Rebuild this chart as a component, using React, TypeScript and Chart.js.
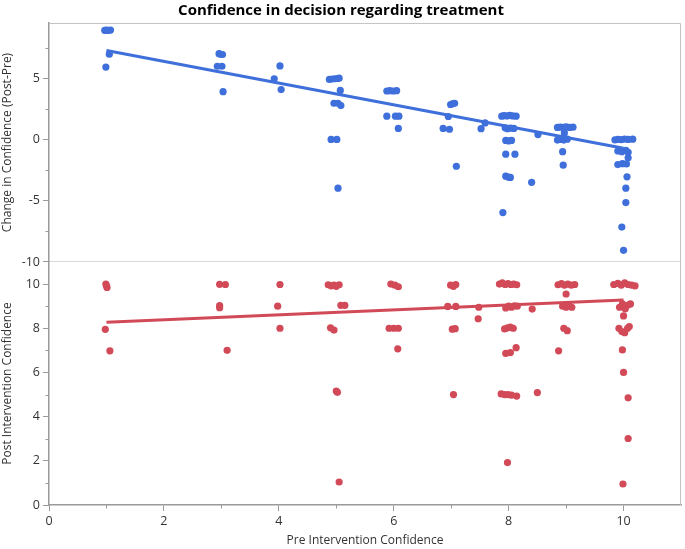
import React, { useEffect, useRef } from 'react';
import { Chart, registerables } from 'chart.js';

Chart.register(...registerables);

// ---- Top panel: Change in Confidence (Post-Pre) vs Pre Intervention Confidence (jittered x)
const changePreX = [
  0.97, 1.0, 1.03, 1.07, 1.05, 0.99,
  2.96, 2.99, 3.02, 2.93, 3.01, 3.03,
  3.92, 4.02, 4.04,
  4.88, 4.93, 4.98, 5.02, 5.05, 5.07, 4.96, 5.03, 5.08, 4.91, 5.01, 5.03,
  5.88, 5.93, 5.99, 6.05, 5.88, 6.03, 6.09, 6.08,
  6.99, 7.03, 7.06, 6.95, 6.86, 6.97, 7.09,
  7.52, 7.59,
  7.88, 7.92, 7.97, 8.02, 8.07, 8.13,
  7.94, 7.98, 8.03, 8.09,
  7.95, 8.0, 8.05,
  7.95, 8.11,
  7.95, 8.0, 8.03,
  8.4, 7.9, 8.51,
  8.85, 8.9, 8.95, 9.0, 9.06, 9.12,
  8.97,
  8.85, 8.9, 8.96, 9.02,
  8.94, 8.95,
  9.85, 9.9, 9.96, 10.02, 10.08, 10.16,
  9.9, 9.97, 10.04, 10.08,
  10.08,
  9.9, 9.98, 10.05,
  10.06, 10.04, 10.04, 9.97, 10.0,
];
const changeY = [
  8.9, 8.92, 8.9, 8.92, 6.96, 5.9,
  7.0, 6.95, 6.93, 5.97, 5.97, 3.9,
  4.95, 6.0, 4.07,
  4.9, 4.93, 4.95, 4.97, 5.0, 4.0, 2.95, 2.95, 2.76, 0, 0, -3.98,
  3.95, 3.98, 3.95, 3.98, 1.9, 1.9, 1.9, 0.9,
  2.85, 2.92, 2.95, 1.87, 0.9, 0.83, -2.19,
  0.88, 1.35,
  1.9, 1.95, 1.92, 1.97, 1.92, 1.9,
  0.95, 0.88, 0.92, 0.9,
  -0.08, -0.12, -0.08,
  -1.2, -1.2,
  -3.0, -3.08, -3.1,
  -3.5, -5.97, 0.4,
  0.98, 1.0, 0.98, 1.02, 0.98, 1.0,
  0.53,
  -0.05, 0, -0.05, 0.02,
  -1.0, -2.1,
  -0.03, 0.0, -0.02, 0.03, 0.0, 0.02,
  -0.95, -1.0, -0.9, -1.05,
  -1.5,
  -2.05, -1.98, -2.0,
  -3.05, -3.98, -5.15, -7.15, -9.05,
];

// ---- Bottom panel: Post Intervention Confidence vs Pre Intervention Confidence (jittered x)
const postPreX = [
  0.99, 1.0, 1.01, 0.98, 1.06,
  2.97, 3.07, 2.97, 2.97, 3.1,
  4.02, 3.98, 4.02,
  4.86, 4.91, 4.96, 5.0, 5.05, 5.08, 5.15, 4.9, 4.96, 5.0, 5.02, 5.05,
  5.95, 6.02, 6.08, 5.92, 6.0, 6.08, 6.07,
  6.99, 7.04, 7.08, 6.94, 7.08, 7.02, 7.07, 7.04,
  7.48, 7.47,
  7.84, 7.89, 7.94, 7.99, 8.04, 8.09, 8.14,
  7.95, 8.0, 8.05, 8.1, 8.15,
  8.41,
  7.93, 7.98, 8.03, 8.08,
  7.95, 8.03, 8.13,
  7.87, 7.93, 7.99, 8.05, 8.14,
  8.5, 7.98,
  8.86, 8.92, 8.97, 9.03, 9.09, 9.15,
  9.0,
  8.94, 9.0, 9.05, 9.1,
  8.96, 9.02, 8.87,
  9.83, 9.9, 9.96, 10.02, 10.08, 10.14, 10.2,
  9.93, 9.98, 10.03, 10.08, 10.12,
  10.0,
  9.92, 9.97, 10.02, 10.07, 10.1,
  9.98, 10.0, 10.08, 10.08, 9.99,
];
const postY = [
  10.0, 9.92, 9.85, 7.95, 6.98,
  9.99, 9.98, 9.03, 8.93, 7.0,
  9.98, 9.0, 8.0,
  9.97, 9.92, 9.95, 9.9, 9.97, 9.04, 9.04, 8.02, 7.92, 5.16, 5.1, 1.04,
  10.0, 9.95, 9.88, 8.0, 8.0, 8.0, 7.07,
  9.95, 9.9, 9.98, 8.99, 8.99, 7.96, 7.98, 5.0,
  8.95, 8.43,
  10.0, 10.05, 9.98, 10.02, 9.98, 10.0, 9.97,
  8.92, 9.0, 8.95, 9.02, 9.0,
  8.87,
  7.97, 8.02, 8.05, 8.0,
  6.86, 6.9, 7.12,
  5.03, 5.0, 5.0, 4.97, 4.93,
  5.09, 1.92,
  9.97, 10.02, 9.95, 10.0, 9.95, 9.98,
  9.55,
  9.0, 8.95, 9.03, 8.95,
  8.0, 7.89, 6.98,
  9.98, 10.03, 9.95, 10.05, 9.98, 9.95, 9.92,
  8.95, 9.1, 8.88, 9.05, 9.1,
  8.56,
  8.0, 7.85, 7.8, 8.0, 8.08,
  7.02, 6.0, 4.85, 3.01, 0.95,
];

// ---- Fitted lines
const changeFitX = [1, 10];
const changeFitY = [7.25, -0.72];
const postFitX = [1, 10];
const postFitY = [8.27, 9.28];

// ---- Ticks
const xTicks = [0, 2, 4, 6, 8, 10];
const xMinorTicks = [1, 3, 5, 7, 9];
const changeTicks = [-10, -5, 0, 5];
const changeMinorTicks = [-7.5, -2.5, 2.5, 7.5];
const postTicks = [0, 2, 4, 6, 8, 10];
const postMinorTicks = [1, 3, 5, 7, 9];

const BLUE = '#3e6fdb';
const RED = '#d24a58';
const AXIS = '#9a9a9a';
const FONT = 'Open Sans';

const toPts = (xs: number[], ys: number[]) => xs.map((x, i) => ({ x, y: ys[i] }));

const framePlugin = {
  id: 'frameMinor',
  afterDraw(chart: any) {
    const { ctx, chartArea: a, scales } = chart;
    ctx.save();
    ctx.strokeStyle = '#c4c4c4';
    ctx.lineWidth = 1;
    ctx.beginPath();
    ctx.moveTo(a.left, a.top + 0.5);
    ctx.lineTo(a.right - 0.5, a.top + 0.5);
    ctx.lineTo(a.right - 0.5, a.bottom);
    ctx.stroke();
    ctx.strokeStyle = AXIS;
    ctx.lineWidth = 1;
    ctx.beginPath();
    for (const v of xMinorTicks) {
      const p = Math.round(scales.x.getPixelForValue(v)) + 0.5;
      ctx.moveTo(p, a.bottom);
      ctx.lineTo(p, a.bottom + 3.5);
    }
    for (const v of changeMinorTicks) {
      const p = Math.round(scales.yTop.getPixelForValue(v)) + 0.5;
      ctx.moveTo(a.left - 3.5, p);
      ctx.lineTo(a.left, p);
    }
    for (const v of postMinorTicks) {
      const p = Math.round(scales.yBot.getPixelForValue(v)) + 0.5;
      ctx.moveTo(a.left - 3.5, p);
      ctx.lineTo(a.left, p);
    }
    ctx.stroke();
    ctx.restore();
  },
};

export default function App() {
  const ref = useRef<HTMLCanvasElement | null>(null);

  useEffect(() => {
    if (!ref.current) return;
    const tickFont = { family: FONT, size: 12.5 };
    const titleFont = { family: FONT, size: 12 };
    const chart = new Chart(ref.current, {
      type: 'scatter',
      data: {
        datasets: [
          {
            label: 'Change fit',
            data: toPts(changeFitX, changeFitY),
            showLine: true,
            borderColor: BLUE,
            borderWidth: 3,
            pointRadius: 0,
            xAxisID: 'x',
            yAxisID: 'yTop',
          },
          {
            label: 'Change',
            data: toPts(changePreX, changeY),
            backgroundColor: BLUE,
            borderWidth: 0,
            pointRadius: 3.6,
            xAxisID: 'x',
            yAxisID: 'yTop',
          },
          {
            label: 'Post fit',
            data: toPts(postFitX, postFitY),
            showLine: true,
            borderColor: RED,
            borderWidth: 3,
            pointRadius: 0,
            xAxisID: 'x',
            yAxisID: 'yBot',
          },
          {
            label: 'Post',
            data: toPts(postPreX, postY),
            backgroundColor: RED,
            borderWidth: 0,
            pointRadius: 3.6,
            xAxisID: 'x',
            yAxisID: 'yBot',
          },
        ],
      },
      options: {
        animation: false,
        responsive: false,
        maintainAspectRatio: false,
        layout: { padding: { left: 0, right: 3, top: 0, bottom: 0 } },
        plugins: {
          legend: { display: false },
          tooltip: { enabled: false },
          title: {
            display: true,
            text: 'Confidence in decision regarding treatment',
            color: '#000',
            font: { family: FONT, size: 15, weight: 'bold' },
            padding: { top: 2, bottom: 3 },
          },
        },
        scales: {
          x: {
            type: 'linear',
            position: 'bottom',
            min: 0,
            max: 11,
            afterBuildTicks: (s: any) => {
              s.ticks = xTicks.map((v) => ({ value: v }));
            },
            afterFit: (s: any) => {
              s.height = 44;
            },
            ticks: { font: tickFont, color: '#333', padding: 3 },
            grid: { drawOnChartArea: false, tickLength: 6, tickColor: AXIS },
            border: { color: AXIS, width: 1.5 },
            title: {
              display: true,
              text: 'Pre Intervention Confidence',
              font: titleFont,
              color: '#333',
              padding: { top: 0, bottom: 1 },
            },
          },
          yBot: {
            type: 'linear',
            position: 'left',
            stack: 'panels',
            stackWeight: 241,
            min: 0,
            max: 11,
            afterBuildTicks: (s: any) => {
              s.ticks = postTicks.map((v) => ({ value: v }));
            },
            afterFit: (s: any) => {
              s.width = 49;
            },
            ticks: { font: tickFont, color: '#333', padding: 3 },
            grid: { drawOnChartArea: false, tickLength: 6, tickColor: AXIS },
            border: { color: AXIS, width: 1.5 },
            title: {
              display: true,
              text: 'Post Intervention Confidence',
              font: titleFont,
              color: '#333',
              padding: { top: 0, bottom: 0 },
            },
          },
          yTop: {
            type: 'linear',
            position: 'left',
            stack: 'panels',
            stackWeight: 237,
            min: -10,
            max: 9.5,
            afterBuildTicks: (s: any) => {
              s.ticks = changeTicks.map((v) => ({ value: v }));
            },
            afterFit: (s: any) => {
              s.width = 49;
            },
            ticks: { font: tickFont, color: '#333', padding: 3 },
            grid: {
              drawOnChartArea: true,
              color: (c: any) => (c.tick && c.tick.value === -10 ? '#d8d8d8' : 'rgba(0,0,0,0)'),
              tickLength: 6,
              tickColor: AXIS,
            },
            border: { color: AXIS, width: 1.5 },
            title: {
              display: true,
              text: 'Change in Confidence (Post-Pre)',
              font: titleFont,
              color: '#333',
              padding: { top: 0, bottom: 0 },
            },
          },
        },
      },
      plugins: [framePlugin],
    } as any);
    return () => chart.destroy();
  }, []);

  return (
    <div style={{ position: 'fixed', left: 0, top: 0, width: 685, height: 549, background: '#fff' }}>
      <canvas ref={ref} width={685} height={549} style={{ width: 685, height: 549, display: 'block' }} />
    </div>
  );
}
